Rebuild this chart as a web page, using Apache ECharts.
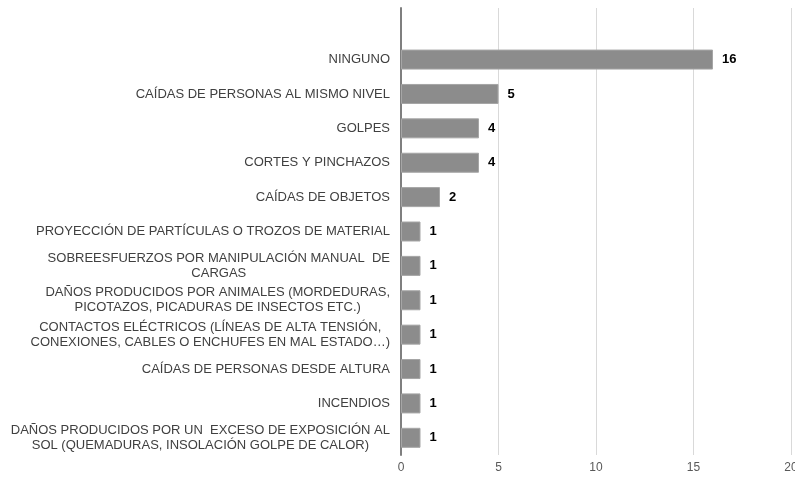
<!DOCTYPE html>
<html>
<head>
<meta charset="utf-8">
<script src="https://cdn.jsdelivr.net/npm/echarts@6/dist/echarts.min.js"></script>
<style>
  html, body { margin: 0; padding: 0; background: #fff; }
  #main { width: 795px; height: 478px; }
</style>
</head>
<body>
<div id="main"></div>
<script>
// categorias de arriba hacia abajo (la primera vacia deja el hueco superior)
const categories = [
  '',
  'NINGUNO',
  'CAÍDAS DE PERSONAS AL MISMO NIVEL',
  'GOLPES',
  'CORTES Y PINCHAZOS',
  'CAÍDAS DE OBJETOS',
  'PROYECCIÓN DE PARTÍCULAS O TROZOS DE MATERIAL',
  'SOBREESFUERZOS POR MANIPULACIÓN MANUAL  DE\nCARGAS',
  'DAÑOS PRODUCIDOS POR ANIMALES (MORDEDURAS,\nPICOTAZOS, PICADURAS DE INSECTOS ETC.)',
  'CONTACTOS ELÉCTRICOS (LÍNEAS DE ALTA TENSIÓN,\nCONEXIONES, CABLES O ENCHUFES EN MAL ESTADO…)',
  'CAÍDAS DE PERSONAS DESDE ALTURA',
  'INCENDIOS',
  'DAÑOS PRODUCIDOS POR UN  EXCESO DE EXPOSICIÓN AL\nSOL (QUEMADURAS, INSOLACIÓN GOLPE DE CALOR)'
];
const values = [null, 16, 5, 4, 4, 2, 1, 1, 1, 1, 1, 1, 1];
const xTicks = [0, 5, 10, 15, 20];

const myChart = echarts.init(document.getElementById('main'));

const option = {
  animation: false,
  grid: { left: 401, right: 4, top: 8, bottom: 23, containLabel: false, outerBoundsMode: 'none' },
  xAxis: {
    type: 'value',
    min: xTicks[0],
    max: xTicks[xTicks.length - 1],
    interval: xTicks[1] - xTicks[0],
    axisLine: { show: false },
    axisTick: { show: false },
    splitLine: { show: true, lineStyle: { color: '#d9d9d9', width: 1 } },
    axisLabel: {
      color: '#595959',
      fontFamily: 'Liberation Sans, Arial, sans-serif',
      fontSize: 12,
      margin: 7
    }
  },
  yAxis: {
    type: 'category',
    inverse: true,
    data: categories,
    axisLine: { show: true, lineStyle: { color: '#7f7f7f', width: 2 } },
    axisTick: { show: false },
    axisLabel: {
      margin: 11,
      fontFamily: 'Liberation Sans, Arial, sans-serif',
      formatter: function (v) {
        if (!v) return '';
        return v.split('\n').map(function (l) { return '{c|' + l + '}'; }).join('\n');
      },
      rich: {
        c: {
          align: 'center',
          color: '#404040',
          fontSize: 13,
          lineHeight: 15,
          fontFamily: 'Liberation Sans, Arial, sans-serif'
        }
      }
    }
  },
  series: [
    {
      type: 'bar',
      data: values,
      barWidth: 20,
      itemStyle: { color: '#8c8c8c', borderColor: '#a6a6a6', borderWidth: 1 },
      label: {
        show: true,
        position: 'right',
        distance: 9,
        color: '#000',
        fontWeight: 'bold',
        fontSize: 13,
        fontFamily: 'Liberation Sans, Arial, sans-serif'
      }
    }
  ]
};

myChart.setOption(option);
</script>
</body>
</html>
